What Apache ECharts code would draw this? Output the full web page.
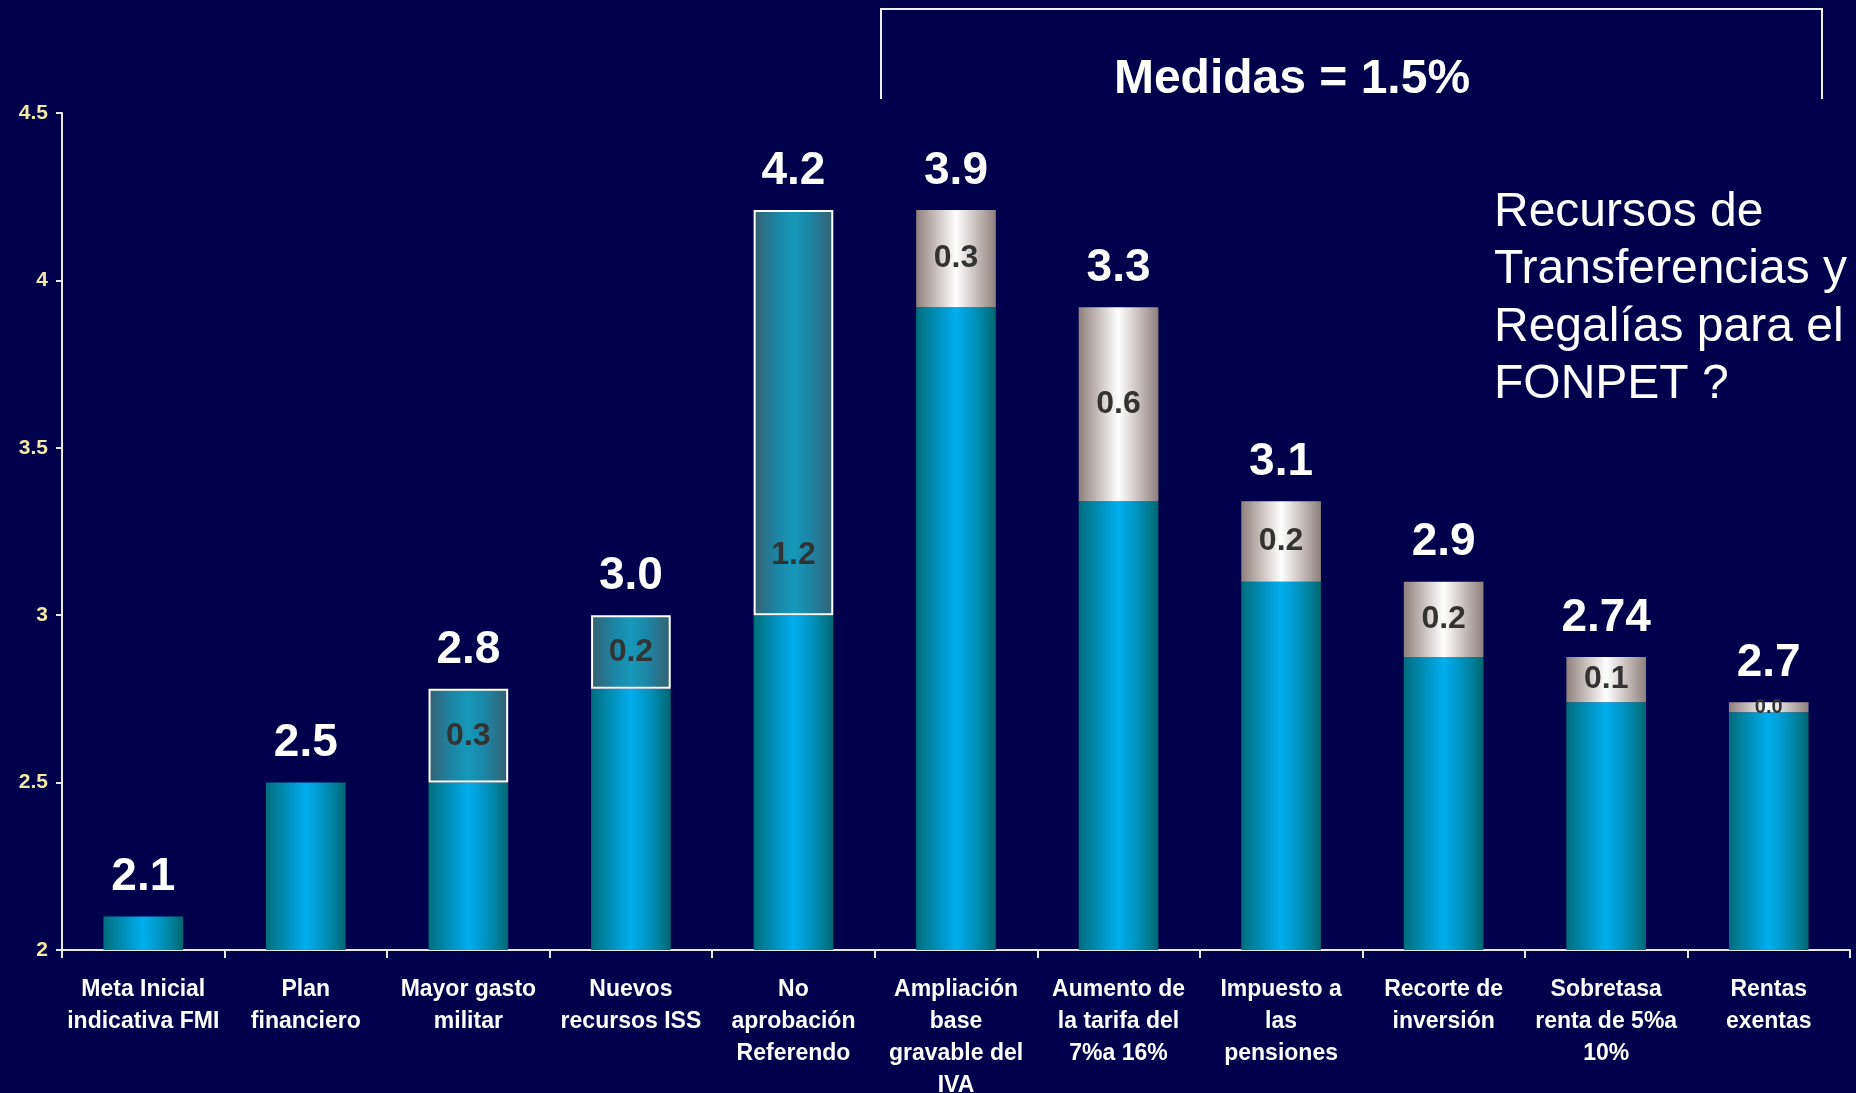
<!DOCTYPE html>
<html>
<head>
<meta charset="utf-8">
<script src="https://cdn.jsdelivr.net/npm/echarts@6/dist/echarts.min.js"></script>
<style>
html,body{margin:0;padding:0;background:#00004C;}
#chart{width:1856px;height:1093px;}
</style>
</head>
<body>
<div id="chart"></div>
<script>
const categories = ['Meta Inicial\nindicativa FMI','Plan\nfinanciero','Mayor gasto\nmilitar','Nuevos\nrecursos ISS','No\naprobación\nReferendo','Ampliación\nbase\ngravable del\nIVA','Aumento de\nla tarifa del\n7%a 16%','Impuesto a\nlas\npensiones','Recorte de\ninversión','Sobretasa\nrenta de 5%a\n10%','Rentas\nexentas'];
const baseValues = [2.10, 2.50, 2.50, 2.78, 3.00, 3.92, 3.34, 3.10, 2.875, 2.74, 2.71];
const ajustes = ['-', '-', 0.28, 0.22, 1.21, '-', '-', '-', '-', '-', '-'];
const medidas = ['-', '-', '-', '-', '-', 0.29, 0.58, 0.24, 0.225, 0.135, 0.03];
const innerLabels = ['', '', '0.3', '0.2', '1.2', '0.3', '0.6', '0.2', '0.2', '0.1', '0.0'];
const topLabels = ['2.1', '2.5', '2.8', '3.0', '4.2', '3.9', '3.3', '3.1', '2.9', '2.74', '2.7'];
const yTickLabels = ['2', '2.5', '3', '3.5', '4', '4.5'];
const titleText = 'Medidas = 1.5%';
const sideText = 'Recursos de\nTransferencias y\nRegalías para el\nFONPET ?';

const num = v => (v === '-' ? 0 : v);
const totals = baseValues.map((b, i) => b + num(ajustes[i]) + num(medidas[i]));

const FONT = '"Liberation Sans", Arial, sans-serif';
const hGrad = (stops) => ({type: 'linear', x: 0, y: 0, x2: 1, y2: 0, colorStops: stops});
const blueGrad = hGrad([
  {offset: 0, color: '#006E7C'}, {offset: 0.25, color: '#008EB8'},
  {offset: 0.5, color: '#00AEEF'}, {offset: 0.75, color: '#0090BA'},
  {offset: 1, color: '#006870'}]);
const boxGrad = hGrad([
  {offset: 0, color: '#356070'}, {offset: 0.3, color: '#1C86A6'},
  {offset: 0.5, color: '#1598BA'}, {offset: 0.7, color: '#1C86A6'},
  {offset: 1, color: '#356070'}]);
const silverGrad = hGrad([
  {offset: 0, color: '#8E807C'}, {offset: 0.25, color: '#C8C0BD'},
  {offset: 0.5, color: '#FFFFFF'}, {offset: 0.75, color: '#C8C0BD'},
  {offset: 1, color: '#8E807C'}]);

function innerData(arr) {
  return arr.map((v, i) => {
    if (v === '-') return '-';
    const lab = {};
    if (v < 0.1) lab.fontSize = 20;
    if (v > 1) { lab.position = 'insideBottom'; lab.distance = 44; }
    return {value: v, label: lab};
  });
}
const innerLabel = {
  show: true, position: 'inside', color: '#333333', fontSize: 32,
  fontWeight: 'bold', fontFamily: FONT, textBorderWidth: 0,
  formatter: p => innerLabels[p.dataIndex]
};

const chart = echarts.init(document.getElementById('chart'), null, {renderer: 'canvas'});
chart.setOption({
  animation: false,
  backgroundColor: '#00004C',
  grid: {left: 62, right: 6, top: 113, bottom: 143, containLabel: false, outerBoundsMode: 'none'},
  xAxis: {
    type: 'category', data: categories, boundaryGap: true,
    axisLine: {show: true, lineStyle: {color: '#E8E8E8', width: 2}},
    axisTick: {show: true, length: 8, lineStyle: {color: '#E8E8E8', width: 2}},
    axisLabel: {interval: 0, color: '#FFFFFF', fontSize: 23, fontWeight: 'bold',
      fontFamily: FONT, lineHeight: 32, margin: 24, align: 'center'},
    splitLine: {show: false}
  },
  yAxis: {
    type: 'value', min: 2, max: 4.5, interval: 0.5,
    axisLine: {show: true, lineStyle: {color: '#E8E8E8', width: 2}},
    axisTick: {show: true, length: 6, lineStyle: {color: '#E8E8E8', width: 2}},
    axisLabel: {color: '#F3E9A2', fontSize: 21, fontWeight: 'bold', fontFamily: FONT, margin: 14,
      formatter: v => { const i = Math.round((v - 2) / 0.5); return yTickLabels[i] !== undefined ? yTickLabels[i] : String(v); }},
    splitLine: {show: false}
  },
  series: [
    {name: 'Base', type: 'bar', stack: 'w', barWidth: '49%', data: baseValues,
      itemStyle: {color: blueGrad}, emphasis: {disabled: true}},
    {name: 'Ajustes', type: 'bar', stack: 'w', barWidth: '49%', data: innerData(ajustes),
      itemStyle: {color: boxGrad, borderColor: '#FFFFFF', borderWidth: 2},
      label: innerLabel, emphasis: {disabled: true}},
    {name: 'Medidas', type: 'bar', stack: 'w', barWidth: '49%', data: innerData(medidas),
      itemStyle: {color: silverGrad}, label: innerLabel, emphasis: {disabled: true}},
    {name: 'Total', type: 'scatter', data: totals, symbol: 'rect', symbolSize: 0,
      itemStyle: {color: '#00004C', opacity: 1},
      label: {show: true, position: 'top', distance: 16, color: '#FFFFFF', opacity: 1,
        textBorderWidth: 0, fontSize: 46, fontWeight: 'bold', fontFamily: FONT,
        formatter: p => topLabels[p.dataIndex]},
      emphasis: {disabled: true}, silent: true, z: 5}
  ],
  graphic: [
    {type: 'polyline', shape: {points: [[881, 99], [881, 9], [1822, 9], [1822, 99]]},
      style: {stroke: '#F0F0F0', lineWidth: 2, fill: null}, silent: true},
    {type: 'text', x: 1292, y: 80, style: {text: titleText, fill: '#FFFFFF',
      font: 'bold 48px ' + FONT, textAlign: 'center', textVerticalAlign: 'middle'}, silent: true},
    {type: 'text', x: 1494, y: 184, style: {text: sideText, fill: '#FFFFFF',
      font: '48px ' + FONT, lineHeight: 57.5, textAlign: 'left', textVerticalAlign: 'top'}, silent: true}
  ]
});
</script>
</body>
</html>
